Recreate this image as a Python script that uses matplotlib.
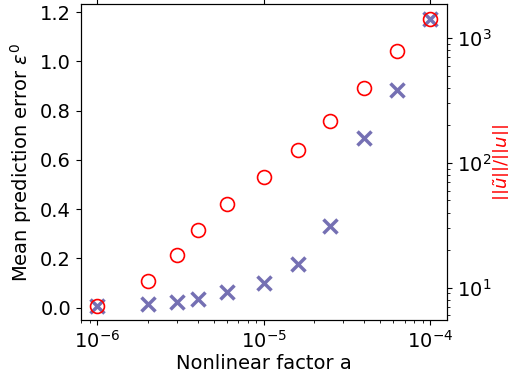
import numpy as np
import matplotlib.pyplot as plt

# nonlinear factor a
a_values = [1e-6, 2e-6, 3e-6, 4e-6, 6e-6, 1e-5, 1.6e-5, 2.5e-5, 4e-5, 6.3e-5, 1e-4]
# mean prediction error (left axis)
mean_error = [0.009, 0.015, 0.025, 0.037, 0.062, 0.10, 0.178, 0.33, 0.69, 0.885, 1.174]
# norm ratio (right axis, log)
norm_ratio = [7.2, 11.4, 18.4, 29, 47, 77, 127, 217, 398, 787, 1436]

fig = plt.figure(figsize=(5.08, 3.79), dpi=100)
ax = fig.add_axes([0.159, 0.156, 0.721, 0.833])
ax.plot(a_values, mean_error, 'x', color='#7570b3', markersize=10, mew=2.5)
ax.set_xscale('log')
ax.set_xlabel('Nonlinear factor a', fontsize=14, labelpad=2)
ax.set_ylabel(r'Mean prediction error $\varepsilon^0$', fontsize=14)
ax.tick_params(labelsize=14)
ax.tick_params(axis='x', which='major', top=True)

ax2 = ax.twinx()
ax2.plot(a_values, norm_ratio, 'o', markerfacecolor='none', markeredgecolor='red',
         markersize=10, mew=1.2)
ax2.set_yscale('log')
ax2.set_ylabel(r'$||\tilde{u}||/||u||$', color='red', fontsize=13, labelpad=0)
ax2.tick_params(labelsize=14)

fig.savefig('out.png', dpi=100)
